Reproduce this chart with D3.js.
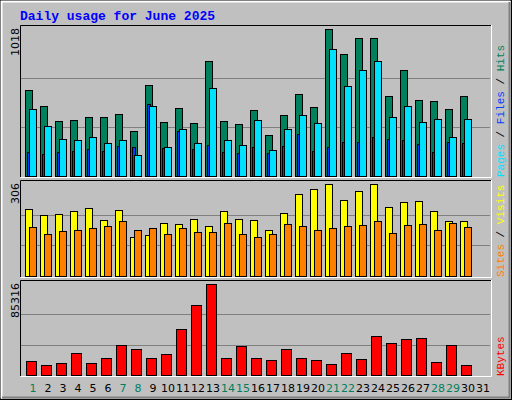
<!DOCTYPE html><html><head><meta charset="utf-8"><script src="https://cdn.jsdelivr.net/npm/d3@7"></script>
<style>body{margin:0}svg{display:block}</style></head><body><script>
const days=d3.range(1,32);
const weekend=[1,7,8,14,15,21,22,28,29];
const hits=[596,483,379,386,407,407,427,310,628,372,469,365,794,379,358,455,282,420,566,476,1018,843,954,954,552,732,524,517,462,552,0];
const files=[462,344,254,247,268,226,247,143,483,199,323,226,607,247,212,386,178,323,420,365,877,621,732,794,407,483,372,393,268,393,0];
const pages=[164,150,164,171,185,171,206,199,497,192,310,185,212,164,157,199,157,206,289,171,199,233,233,268,254,247,219,164,233,226,0];
const visits=[223,203,206,216,226,186,220,130,136,176,173,190,166,216,190,186,153,210,273,289,306,253,283,306,229,246,249,216,183,183,0];
const sites=[163,140,150,153,160,166,183,153,160,140,160,146,146,176,140,130,140,173,166,153,160,166,170,183,143,170,173,153,176,163,0];
const kbytes=[13125,9375,11250,20625,11250,15938,28125,24375,15938,19688,43125,65625,85316,15938,27188,15938,14063,24375,15938,14063,10313,20625,15000,36563,30000,33750,34688,12188,28125,9375,0];
const maxTop=1018,maxMid=306,maxBot=85316;

const svg=d3.select("body").append("svg").attr("width",512).attr("height",400);
svg.append("rect").attr("x",0).attr("y",0).attr("width",512).attr("height",400).attr("fill","#C0C0C0");
svg.append("rect").attr("x",0.5).attr("y",0.5).attr("width",511).attr("height",399).attr("fill","none").attr("stroke","#000");
svg.append("path").attr("d","M1.5,398.5V1.5H510.5").attr("fill","none").attr("stroke","#fff").attr("stroke-width",2);
svg.append("path").attr("d","M2,397.5H509.5V2").attr("fill","none").attr("stroke","#808080").attr("stroke-width",2);

svg.append("text").attr("x",20).attr("y",20).text("Daily usage for June 2025")
 .attr("font-family","'Liberation Mono',monospace").attr("font-weight","bold").attr("font-size",13).attr("fill","#0000FF");

const x=d3.scaleLinear().domain([1,32]).range([25,490]);
function panel(y0,y1,max,label,colors,texts){
  svg.append("rect").attr("x",20).attr("y",y0).attr("width",471).attr("height",y1-y0).attr("fill","#C0C0C0");
  svg.append("path").attr("d",`M20.5,${y1}V${y0+0.5}H491`).attr("fill","none").attr("stroke","#000");
  svg.append("path").attr("d",`M20.5,${y1+0.5}H491.5V${y0}`).attr("fill","none").attr("stroke","#fff");
  const y=d3.scaleLinear().domain([0,max]).range([y1-1,y0+4]);
  [max/3,2*max/3].forEach(v=>svg.append("line").attr("x1",21).attr("x2",490).attr("y1",Math.round(y(v))+0.5).attr("y2",Math.round(y(v))+0.5).attr("stroke","#808080"));
  svg.append("text").attr("transform",`translate(19,${y0+3}) rotate(-90)`).attr("text-anchor","end")
    .attr("font-family","'DejaVu Sans',sans-serif").attr("font-size",11).text(label);
  const t=svg.append("text").attr("transform",`translate(504,${y1}) rotate(-90)`)
    .attr("font-family","'Liberation Mono',monospace").attr("font-size",11);
  texts.forEach((s,i)=>{t.append("tspan").attr("fill",s[1]).text(s[0]);});
  return y;
}
const yT=panel(25,177,maxTop,"1018",[],[["Pages","#00E0FF"],[" / ","#000"],["Files","#0040FF"],[" / ","#000"],["Hits","#00805C"]]);
const yM=panel(180,277,maxMid,"306",[],[["Sites","#FF8000"],[" / ","#000"],["Visits","#FFFF00"]]);
const yB=panel(280,376,maxBot,"85316",[],[["KBytes","#FF0000"]]);

function bars(data,y,off,w,color){
  svg.append("g").selectAll("rect").data(data.map((v,i)=>[i+1,v]).filter(d=>d[1]>0)).join("rect")
   .attr("x",d=>Math.round(x(d[0]))+off+0.5).attr("width",w)
   .attr("y",d=>Math.round(y(d[1]))+0.5).attr("height",d=>Math.round(y(0))-Math.round(y(d[1])))
   .attr("fill",color).attr("stroke","#000");
}
bars(hits,yT,0,7,"#00805C");
bars(pages,yT,2,3,"#0040FF");
bars(files,yT,4,7,"#00E0FF");
bars(visits,yM,0,7,"#FFFF00");
bars(sites,yM,4,7,"#FF8000");
bars(kbytes,yB,1,10,"#FF0000");

svg.append("g").selectAll("text").data(days).join("text")
 .attr("x",d=>x(d)+8).attr("y",392).attr("text-anchor","middle")
 .attr("font-family","'DejaVu Sans',sans-serif").attr("font-size",11)
 .attr("fill",d=>weekend.includes(d)?"#00805C":"#000").text(d=>d);
</script></body></html>
